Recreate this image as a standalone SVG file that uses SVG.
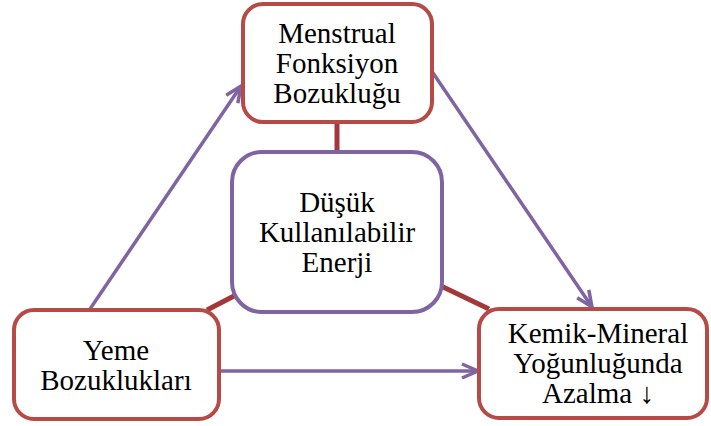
<svg xmlns="http://www.w3.org/2000/svg" width="711" height="426" viewBox="0 0 711 426">
<style>
.red{fill:#fff;stroke:#B54A47;stroke-width:4}
.pur{fill:#fff;stroke:#8064A2;stroke-width:4}
.link{stroke:#A2383A;stroke-width:5;fill:none}
.arr{stroke:#8064A2;stroke-width:3.5;fill:none;marker-end:url(#ah2)}
text{font-family:"Liberation Serif","Times New Roman",serif;font-size:29px;fill:#000;text-anchor:middle}
</style>
<defs>
<marker id="ah2" viewBox="0 0 20 20" refX="18" refY="10" markerWidth="20" markerHeight="20" markerUnits="userSpaceOnUse" orient="auto">
<path d="M2,3 L18,10 L2,17" fill="none" stroke="#8064A2" stroke-width="3.5"/>
</marker>
</defs>
<g id="connectors">
<line class="link" x1="337" y1="122" x2="337" y2="152"/>
<line class="link" x1="207" y1="310" x2="234" y2="296"/>
<line class="link" x1="441" y1="286" x2="489" y2="309"/>
<line class="arr" x1="90" y1="309" x2="241" y2="86"/>
<line class="arr" x1="431" y1="70" x2="592" y2="307"/>
<line class="arr" x1="219" y1="371" x2="478" y2="371"/>
</g>
<g id="menstrual">
<rect class="red" x="243" y="4" width="189" height="118" rx="20"/>
<text x="337" y="43">Menstrual</text>
<text x="337" y="73">Fonksiyon</text>
<text x="337" y="103">Bozukluğu</text>
</g>
<g id="enerji">
<rect class="pur" x="232" y="152" width="210" height="160" rx="30"/>
<text x="337" y="212">Düşük</text>
<text x="337" y="242">Kullanılabilir</text>
<text x="337" y="272">Enerji</text>
</g>
<g id="yeme">
<rect class="red" x="14" y="310" width="205" height="109" rx="20"/>
<text x="116" y="360">Yeme</text>
<text x="116" y="390">Bozuklukları</text>
</g>
<g id="kemik">
<rect class="red" x="479" y="309" width="228" height="109" rx="20"/>
<text x="598" y="343">Kemik-Mineral</text>
<text x="598" y="373">Yoğunluğunda</text>
<text x="598" y="403">Azalma ↓</text>
</g>
</svg>
